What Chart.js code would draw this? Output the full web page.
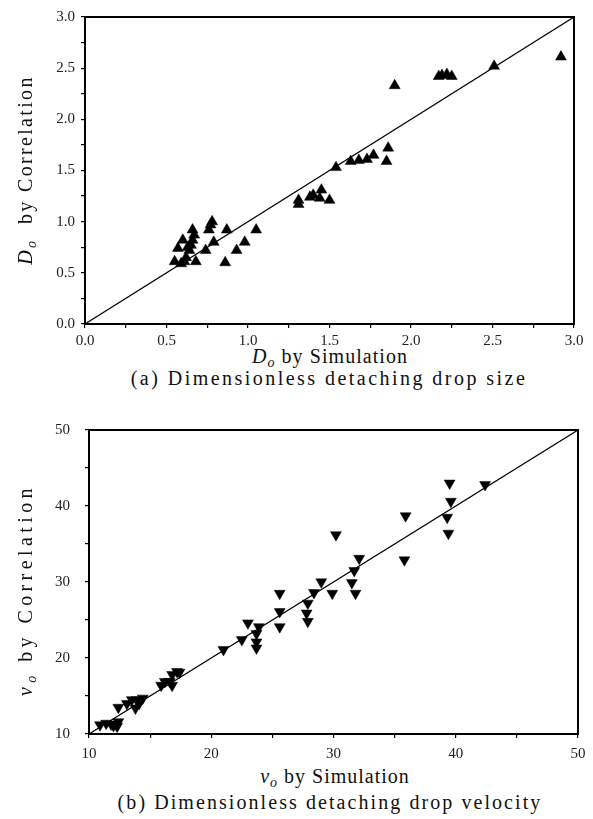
<!DOCTYPE html>
<html>
<head>
<meta charset="utf-8">
<script src="https://cdn.jsdelivr.net/npm/chart.js@4.4.1/dist/chart.umd.min.js"></script>
<style>
  html, body { margin:0; padding:0; background:#fff; }
  #wrap { position:relative; width:593px; height:819px; background:#fff; overflow:hidden; }
  .cv { position:absolute; left:0; }
  .txt { position:absolute; white-space:nowrap; font-family:"Liberation Serif","DejaVu Serif",serif; color:#111; font-size:20px; line-height:1; transform:translate(-50%,-50%); }
  .rot { transform:translate(-50%,-50%) rotate(-90deg); }
  .txt sub { font-size:0.7em; vertical-align:-0.25em; line-height:0; font-style:italic; }
</style>
</head>
<body>
<div id="wrap">
  <canvas id="c1" class="cv" width="593" height="345" style="top:0"></canvas>
  <canvas id="c2" class="cv" width="593" height="360" style="top:400px"></canvas>
  <span class="txt rot" data-w="190" style="left:25px;top:170px"><i>D</i><sub>o</sub>&nbsp; by Correlation</span>
  <span class="txt" data-w="156" style="left:330px;top:356px"><i>D</i><sub>o</sub> by Simulation</span>
  <span class="txt" data-w="396" style="left:329px;top:378px">(a) Dimensionless detaching drop size</span>
  <span class="txt rot" data-w="212" style="left:25px;top:590px"><i>v</i><sub>o</sub> by Correlation</span>
  <span class="txt" data-w="150" style="left:335px;top:776px"><i>v</i><sub>o</sub> by Simulation</span>
  <span class="txt" data-w="425" style="left:330px;top:802px">(b) Dimensionless detaching drop velocity</span>
</div>
<script>
// ---- Data (a): dimensionless detaching drop size ----
const sizeSim = [0.55,0.57,0.59,0.60,0.61,0.62,0.64,0.65,0.66,0.66,0.67,0.68,0.63,0.74,0.76,0.77,0.78,0.79,0.86,0.87,0.93,0.98,1.05,
                 1.31,1.31,1.38,1.40,1.45,1.44,1.50,1.54,1.63,1.68,1.73,1.77,1.86,1.85,1.90,2.17,2.19,2.22,2.25,2.51,2.92];
const sizeCor = [0.61,0.74,0.59,0.82,0.61,0.65,0.72,0.77,0.82,0.92,0.87,0.61,0.75,0.72,0.92,0.97,1.00,0.80,0.60,0.92,0.72,0.80,0.92,
                 1.21,1.17,1.24,1.26,1.31,1.23,1.21,1.53,1.59,1.60,1.61,1.65,1.72,1.59,2.33,2.42,2.43,2.44,2.42,2.52,2.61];
const sizeLineX = [0, 3];
const sizeLineY = [0, 3];
const sizeTicks = { min:0, max:3, step:0.25, labelStep:0.5 };

// ---- Data (b): dimensionless detaching drop velocity ----
const velSim = [10.9,11.4,11.8,12.0,12.3,12.4,12.4,13.1,13.5,13.8,13.9,14.1,14.4,15.9,16.2,16.6,16.8,16.8,17.2,17.4,
                21.0,22.5,23.0,23.7,23.7,23.7,23.9,25.6,25.6,25.6,27.8,27.9,27.9,28.4,29.0,29.9,30.2,31.5,31.7,31.8,32.1,
                35.8,35.9,39.3,39.4,39.6,39.5,42.4];
const velCor = [11.2,11.4,11.3,11.1,11.0,11.6,13.5,14.0,14.5,13.4,14.5,14.0,14.7,16.4,16.9,16.9,16.4,17.8,18.2,18.1,
                21.1,22.4,24.6,23.2,22.1,21.3,24.1,26.1,24.1,28.5,25.9,27.2,24.8,28.6,30.0,28.5,36.2,29.9,31.5,28.5,33.1,
                32.9,38.7,38.5,36.4,40.6,43.0,42.8];
const velLineX = [10, 50];
const velLineY = [10, 50];
const velTicks = { min:10, max:50, step:5, labelStep:10 };

function pts(xs, ys){ return xs.map((x,i)=>({x, y:ys[i]})); }

const framePlugin = {
  id:'frame',
  afterDatasetsDraw(chart){
    const a = chart.chartArea, c = chart.ctx;
    c.save(); c.strokeStyle='#000'; c.lineWidth=2;
    c.strokeRect(a.left, a.top, a.right-a.left, a.bottom-a.top);
    c.restore();
  }
};

function makeChart(id, xs, ys, lx, ly, tk, rot, area, yPad, xPad){
  const fmt = (v)=>{
    const r = (v - tk.min)/tk.labelStep;
    if (Math.abs(r - Math.round(r)) > 1e-6) return '';
    return tk.labelStep < 1 ? v.toFixed(1) : String(Math.round(v));
  };
  const axis = (isX)=>({
    type:'linear', min:tk.min, max:tk.max,
    border:{display:false},
    grid:{drawOnChartArea:false, drawTicks:true, tickLength:4, tickColor:'#000', lineWidth:1.2},
    ticks:{stepSize:tk.step, autoSkip:false, maxRotation:0, color:'#222',
           font:{family:'"Liberation Serif","DejaVu Serif",serif', size:15},
           padding: isX ? xPad : yPad, callback:fmt},
    afterFit(s){ if (isX) s.height = area.xh; else s.width = area.left; }
  });
  return new Chart(document.getElementById(id), {
    type:'scatter',
    data:{ datasets:[
      { type:'line', data:pts(lx, ly), borderColor:'#000', borderWidth:1.2, pointRadius:0, fill:false, order:2 },
      { data:pts(xs, ys), pointStyle:'triangle', rotation:rot, pointRadius:6.3, pointHoverRadius:6.3,
        backgroundColor:'#000', borderColor:'#000', borderWidth:0.5, clip:false, order:1 }
    ]},
    options:{
      responsive:false, animation:false,
      layout:{ padding:{ left:0, right:area.right, top:area.top, bottom:0 } },
      plugins:{ legend:{display:false}, tooltip:{enabled:false} },
      scales:{ x:axis(true), y:axis(false) }
    },
    plugins:[framePlugin]
  });
}

makeChart('c1', sizeSim, sizeCor, sizeLineX, sizeLineY, sizeTicks, 0, {left:85, right:19, top:17, xh:21}, 6, 4);
makeChart('c2', velSim, velCor, velLineX, velLineY, velTicks, 180, {left:89, right:15, top:30, xh:26}, 15, 7);

// fit text widths to the reference layout
document.querySelectorAll('.txt').forEach(el=>{
  const target = +el.dataset.w;
  const n = el.textContent.length;
  const w = el.offsetWidth;
  el.style.letterSpacing = ((target - w) / n).toFixed(2) + 'px';
});
</script>
</body>
</html>
